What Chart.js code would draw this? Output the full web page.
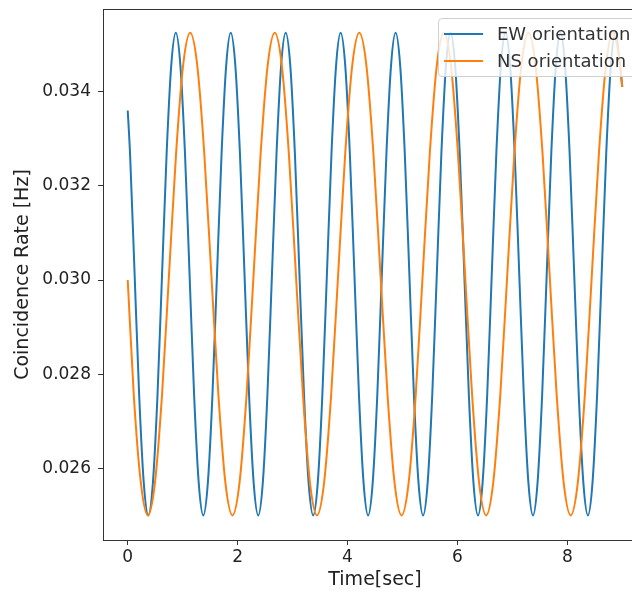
<!DOCTYPE html>
<html>
<head>
<meta charset="utf-8">
<script src="https://cdn.jsdelivr.net/npm/chart.js@4.4.1/dist/chart.umd.min.js"></script>
<style>
  html, body { margin: 0; padding: 0; overflow: hidden; background: #fff; }
  #wrap { position: relative; width: 632px; height: 592px; overflow: hidden; }
  #chart { position: absolute; left: 0; top: 0; }
  #legend {
    position: absolute; left: 438px; top: 18px; width: 200px; height: 59px;
    background: rgba(255,255,255,0.8); border: 1px solid #d0d0d0; border-radius: 4px;
    box-sizing: border-box; font-family: "DejaVu Sans", sans-serif; font-size: 18px; color: #333;
  }
  .row { position: absolute; left: 0; height: 24px; width: 100%; }
  .sw { position: absolute; left: 5px; width: 39px; height: 2px; top: 11px; }
  .lbl { position: absolute; left: 58px; top: 0; line-height: 24px; white-space: nowrap; }
</style>
</head>
<body>
<div id="wrap">
  <canvas id="chart" width="650" height="592"></canvas>
  <div id="legend"></div>
</div>
<script>
// EW orientation: time [s] and rate [Hz]
const ewTime = [0, 0.042, 0.125, 0.208, 0.292,
  0.375, 0.458, 0.542, 0.625, 0.708, 0.792, 0.875, 0.958, 1.042, 1.125, 1.208, 1.292,
  1.375, 1.458, 1.542, 1.625, 1.708, 1.792, 1.875, 1.958, 2.042, 2.125, 2.208, 2.292,
  2.375, 2.458, 2.542, 2.625, 2.708, 2.792, 2.875, 2.958, 3.042, 3.125, 3.208, 3.292,
  3.375, 3.458, 3.542, 3.625, 3.708, 3.792, 3.875, 3.958, 4.042, 4.125, 4.208, 4.292,
  4.375, 4.458, 4.542, 4.625, 4.708, 4.792, 4.875, 4.958, 5.042, 5.125, 5.208, 5.292,
  5.375, 5.458, 5.542, 5.625, 5.708, 5.792, 5.875, 5.958, 6.042, 6.125, 6.208, 6.292,
  6.375, 6.458, 6.542, 6.625, 6.708, 6.792, 6.875, 6.958, 7.042, 7.125, 7.208, 7.292,
  7.375, 7.458, 7.542, 7.625, 7.708, 7.792, 7.875, 7.958, 8.042, 8.125, 8.208, 8.292,
  8.375, 8.458, 8.542, 8.625, 8.708, 8.792, 8.875, 8.958, 9.0];
const ewRate = [0.0336, 0.03269, 0.03013, 0.02756, 0.02569,
  0.02500, 0.02569, 0.02756, 0.03013, 0.03269, 0.03456, 0.03525, 0.03456, 0.03269, 0.03013, 0.02756, 0.02569,
  0.02500, 0.02569, 0.02756, 0.03013, 0.03269, 0.03456, 0.03525, 0.03456, 0.03269, 0.03013, 0.02756, 0.02569,
  0.02500, 0.02569, 0.02756, 0.03013, 0.03269, 0.03456, 0.03525, 0.03456, 0.03269, 0.03013, 0.02756, 0.02569,
  0.02500, 0.02569, 0.02756, 0.03013, 0.03269, 0.03456, 0.03525, 0.03456, 0.03269, 0.03013, 0.02756, 0.02569,
  0.02500, 0.02569, 0.02756, 0.03013, 0.03269, 0.03456, 0.03525, 0.03456, 0.03269, 0.03013, 0.02756, 0.02569,
  0.02500, 0.02569, 0.02756, 0.03013, 0.03269, 0.03456, 0.03525, 0.03456, 0.03269, 0.03013, 0.02756, 0.02569,
  0.02500, 0.02569, 0.02756, 0.03013, 0.03269, 0.03456, 0.03525, 0.03456, 0.03269, 0.03013, 0.02756, 0.02569,
  0.02500, 0.02569, 0.02756, 0.03013, 0.03269, 0.03456, 0.03525, 0.03456, 0.03269, 0.03013, 0.02756, 0.02569,
  0.02500, 0.02569, 0.02756, 0.03013, 0.03269, 0.03456, 0.03525, 0.03456, 0.0341];

// NS orientation
const nsTime = [0, 0.110, 0.239,
  0.367, 0.495, 0.624, 0.752, 0.880, 1.008, 1.137, 1.265, 1.393, 1.521, 1.650, 1.778,
  1.906, 2.034, 2.163, 2.291, 2.419, 2.547, 2.676, 2.804, 2.932, 3.060, 3.189, 3.317,
  3.445, 3.573, 3.702, 3.830, 3.958, 4.086, 4.215, 4.343, 4.471, 4.599, 4.728, 4.856,
  4.984, 5.112, 5.241, 5.369, 5.497, 5.625, 5.754, 5.882, 6.010, 6.138, 6.267, 6.395,
  6.523, 6.651, 6.780, 6.908, 7.036, 7.164, 7.293, 7.421, 7.549, 7.677, 7.806, 7.934,
  8.062, 8.190, 8.319, 8.447, 8.575, 8.703, 8.832, 8.960, 9.0];
const nsRate = [0.0300, 0.02756, 0.02569,
  0.02500, 0.02569, 0.02756, 0.03013, 0.03269, 0.03456, 0.03525, 0.03456, 0.03269, 0.03013, 0.02756, 0.02569,
  0.02500, 0.02569, 0.02756, 0.03013, 0.03269, 0.03456, 0.03525, 0.03456, 0.03269, 0.03013, 0.02756, 0.02569,
  0.02500, 0.02569, 0.02756, 0.03013, 0.03269, 0.03456, 0.03525, 0.03456, 0.03269, 0.03013, 0.02756, 0.02569,
  0.02500, 0.02569, 0.02756, 0.03013, 0.03269, 0.03456, 0.03525, 0.03456, 0.03269, 0.03013, 0.02756, 0.02569,
  0.02500, 0.02569, 0.02756, 0.03013, 0.03269, 0.03456, 0.03525, 0.03456, 0.03269, 0.03013, 0.02756, 0.02569,
  0.02500, 0.02569, 0.02756, 0.03013, 0.03269, 0.03456, 0.03525, 0.03456, 0.0341];

const seriesNames = ['EW orientation', 'NS orientation'];
const xTicks = [0, 2, 4, 6, 8];
const yTicks = [0.026, 0.028, 0.030, 0.032, 0.034];

const toPts = (xs, ys) => xs.map((t, i) => ({ x: t, y: ys[i] }));

// top/right spines like matplotlib
const frame = {
  id: 'frame',
  afterDatasetsDraw(chart) {
    const a = chart.chartArea, c = chart.ctx;
    c.save();
    c.strokeStyle = '#333';
    c.lineWidth = 1;
    c.strokeRect(Math.round(a.left) + 0.5, Math.round(a.top) + 0.5, Math.round(a.right - a.left), Math.round(a.bottom - a.top));
    c.restore();
  }
};

const tickFont = { family: 'DejaVu Sans', size: 17 };
const titleFont = { family: 'DejaVu Sans', size: 19 };

const chart = new Chart(document.getElementById('chart'), {
  type: 'line',
  data: {
    datasets: [
      { label: seriesNames[0], data: toPts(ewTime, ewRate), borderColor: '#1f77b4', order: 2 },
      { label: seriesNames[1], data: toPts(nsTime, nsRate), borderColor: '#ff7f0e', order: 1 }
    ]
  },
  options: {
    responsive: false,
    animation: false,
    layout: { padding: { top: 9, right: 3, left: 0, bottom: 0 } },
    elements: {
      line: { borderWidth: 2, cubicInterpolationMode: 'monotone', fill: false },
      point: { radius: 0 }
    },
    plugins: { legend: { display: false }, tooltip: { enabled: false } },
    scales: {
      x: {
        type: 'linear', min: -0.45, max: 9.45,
        afterFit: s => { s.height = 52; s.paddingLeft = 0; s.paddingRight = 0; },
        afterBuildTicks: s => { s.ticks = xTicks.map(v => ({ value: v })); },
        ticks: { font: tickFont, color: '#222', padding: 2, maxRotation: 0, callback: v => String(v) },
        grid: { drawOnChartArea: false, tickLength: 5, color: '#333' },
        border: { color: '#333' },
        title: { display: true, text: 'Time[sec]', font: titleFont, color: '#222', padding: { top: 0, bottom: 1 } }
      },
      y: {
        type: 'linear', min: 0.024477, max: 0.035757,
        afterFit: s => { s.width = 103; s.paddingTop = 0; s.paddingBottom = 0; },
        afterBuildTicks: s => { s.ticks = yTicks.map(v => ({ value: v })); },
        ticks: { font: tickFont, color: '#222', padding: 7, callback: v => v.toFixed(3) },
        grid: { drawOnChartArea: false, tickLength: 5, color: '#333' },
        border: { color: '#333' },
        title: { display: true, text: 'Coincidence Rate [Hz]', font: titleFont, color: '#222', padding: { top: 12, bottom: 0 } }
      }
    }
  },
  plugins: [frame]
});

// legend box drawn over the plot (upper right, like matplotlib)
const leg = document.getElementById('legend');
chart.data.datasets.forEach((ds, i) => {
  const row = document.createElement('div');
  row.className = 'row';
  row.style.top = (3 + i * 26.6) + 'px';
  row.innerHTML = `<div class="sw" style="background:${ds.borderColor}"></div><span class="lbl">${ds.label}</span>`;
  leg.appendChild(row);
});
</script>
</body>
</html>
